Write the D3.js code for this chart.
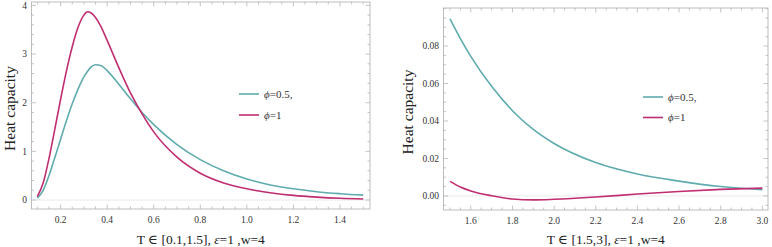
<!DOCTYPE html>
<html>
<head>
<meta charset="utf-8">
<script src="https://cdn.jsdelivr.net/npm/d3@7"></script>
<style>
  html, body { margin: 0; padding: 0; background: #fff; }
  svg { display: block; }
</style>
</head>
<body>
<svg id="chart" width="772" height="247"></svg>
<script>
// Left panel: T in [0.1, 1.5]
const tLow = [0.1, 0.125, 0.15, 0.175, 0.2, 0.225, 0.25, 0.275, 0.3, 0.315, 0.33, 0.35, 0.375, 0.4,
  0.45, 0.5, 0.55, 0.6, 0.7, 0.8, 0.9, 1.0, 1.1, 1.2, 1.3, 1.4, 1.5];
const cLowPhiHalf = [0.04, 0.2, 0.5, 0.87, 1.25, 1.63, 1.98, 2.28, 2.53, 2.64, 2.73, 2.78, 2.76, 2.66,
  2.38, 2.08, 1.8, 1.55, 1.14, 0.83, 0.6, 0.43, 0.31, 0.23, 0.17, 0.13, 0.1];
const cLowPhiOne = [0.07, 0.35, 0.85, 1.45, 2.07, 2.65, 3.15, 3.55, 3.8, 3.87, 3.85, 3.75, 3.55, 3.28,
  2.72, 2.2, 1.77, 1.4, 0.88, 0.55, 0.35, 0.23, 0.15, 0.095, 0.06, 0.035, 0.02];

// Right panel: T in [1.5, 3]
const tHigh = [1.5, 1.55, 1.6, 1.7, 1.8, 1.9, 2.0, 2.2, 2.4, 2.6, 2.8, 3.0];
const cHighPhiHalf = [0.0945, 0.084, 0.0745, 0.0585, 0.0455, 0.0355, 0.028, 0.0178, 0.0117, 0.0079, 0.005, 0.0033];
const cHighPhiOne = [0.0078, 0.0048, 0.0027, 0.0001, -0.0016, -0.0021, -0.0018, -0.0006, 0.001, 0.0024, 0.0035, 0.0042];

const xTicksLow = [0.2, 0.4, 0.6, 0.8, 1.0, 1.2, 1.4];
const yTicksLow = [0, 1, 2, 3, 4];
const xTicksHigh = [1.6, 1.8, 2.0, 2.2, 2.4, 2.6, 2.8, 3.0];
const yTicksHigh = [0, 0.02, 0.04, 0.06, 0.08];

const seriesNames = ['\u03D5=0.5,', '\u03D5=1'];
const colors = ['#5fabae', '#c02d71'];

const svg = d3.select('#chart');
const serif = "'Liberation Serif', 'DejaVu Serif', serif";

const panels = [
  {
    box: { x0: 31.5, x1: 370, y0: 2, y1: 209 },
    xDomain: [0.075, 1.529], yDomain: [-0.185, 4.07],
    xTicks: xTicksLow, yTicks: yTicksLow,
    xMinorStep: 0.05, yMinorStep: 0.2,
    xFmt: d3.format('.1f'), yFmt: d3.format('d'),
    t: tLow, series: [cLowPhiHalf, cLowPhiOne],
    legend: { x: 239, y: 94, gap: 21 },
    yTitleX: 15,
    title: ['T \u2208 [0.1,1.5], ', '\u03B5', '=1 ,w=4']
  },
  {
    box: { x0: 443.5, x1: 768, y0: 8, y1: 210 },
    xDomain: [1.469, 3.027], yDomain: [-0.0075, 0.1003],
    xTicks: xTicksHigh, yTicks: yTicksHigh,
    xMinorStep: 0.05, yMinorStep: 0.005,
    xFmt: d3.format('.1f'), yFmt: d3.format('.2f'),
    t: tHigh, series: [cHighPhiHalf, cHighPhiOne],
    legend: { x: 643, y: 97, gap: 20.5 },
    yTitleX: 413,
    title: ['T \u2208 [1.5,3], ', '\u03B5', '=1 ,w=4']
  }
];

function minorTicks(domain, step, majors) {
  const out = [];
  const start = Math.ceil(domain[0] / step - 1e-9);
  const end = Math.floor(domain[1] / step + 1e-9);
  for (let i = start; i <= end; i++) {
    const v = +(i * step).toFixed(6);
    if (!majors.some(m => Math.abs(m - v) < 1e-9)) out.push(v);
  }
  return out;
}

panels.forEach(p => {
  const b = p.box;
  const x = d3.scaleLinear().domain(p.xDomain).range([b.x0, b.x1]);
  const y = d3.scaleLinear().domain(p.yDomain).range([b.y1, b.y0]);
  const g = svg.append('g');

  // zero line
  g.append('line')
    .attr('x1', b.x0).attr('x2', b.x1)
    .attr('y1', y(0)).attr('y2', y(0))
    .attr('stroke', '#e4e4e4').attr('stroke-width', 0.8);

  // frame
  g.append('rect')
    .attr('x', b.x0).attr('y', b.y0)
    .attr('width', b.x1 - b.x0).attr('height', b.y1 - b.y0)
    .attr('fill', 'none').attr('stroke', '#bdbdbd').attr('stroke-width', 1);

  const tickCol = '#b5b5b5';
  const xMin = minorTicks(p.xDomain, p.xMinorStep, p.xTicks);
  const yMin = minorTicks(p.yDomain, p.yMinorStep, p.yTicks);

  // x ticks, bottom and top
  [[p.xTicks, 4.5], [xMin, 2.5]].forEach(([vals, len]) => {
    vals.forEach(v => {
      g.append('line').attr('x1', x(v)).attr('x2', x(v))
        .attr('y1', b.y1).attr('y2', b.y1 - len)
        .attr('stroke', tickCol).attr('stroke-width', 0.8);
      g.append('line').attr('x1', x(v)).attr('x2', x(v))
        .attr('y1', b.y0).attr('y2', b.y0 + len)
        .attr('stroke', tickCol).attr('stroke-width', 0.8);
    });
  });
  // y ticks, left and right
  [[p.yTicks, 4.5], [yMin, 2.5]].forEach(([vals, len]) => {
    vals.forEach(v => {
      g.append('line').attr('y1', y(v)).attr('y2', y(v))
        .attr('x1', b.x0).attr('x2', b.x0 + len)
        .attr('stroke', tickCol).attr('stroke-width', 0.8);
      g.append('line').attr('y1', y(v)).attr('y2', y(v))
        .attr('x1', b.x1).attr('x2', b.x1 - len)
        .attr('stroke', tickCol).attr('stroke-width', 0.8);
    });
  });

  // tick labels
  g.selectAll('.xl').data(p.xTicks).join('text')
    .attr('x', d => x(d)).attr('y', b.y1 + 13.5)
    .attr('text-anchor', 'middle')
    .style('font-family', serif).style('font-size', '9.5px').attr('fill', '#333')
    .text(p.xFmt);
  g.selectAll('.yl').data(p.yTicks).join('text')
    .attr('x', b.x0 - 4.5).attr('y', d => y(d) + 3.2)
    .attr('text-anchor', 'end')
    .style('font-family', serif).style('font-size', '9.5px').attr('fill', '#333')
    .text(p.yFmt);

  // curves
  const line = d3.line()
    .x(d => x(d[0])).y(d => y(d[1]))
    .curve(d3.curveMonotoneX);
  p.series.forEach((vals, i) => {
    g.append('path')
      .datum(p.t.map((t, k) => [t, vals[k]]))
      .attr('d', line)
      .attr('fill', 'none')
      .attr('stroke', colors[i])
      .attr('stroke-width', 1.6);
  });

  // legend
  seriesNames.forEach((name, i) => {
    const ly = p.legend.y + i * p.legend.gap;
    g.append('line')
      .attr('x1', p.legend.x).attr('x2', p.legend.x + 20)
      .attr('y1', ly).attr('y2', ly)
      .attr('stroke', colors[i]).attr('stroke-width', 1.6);
    const t = g.append('text')
      .attr('x', p.legend.x + 25).attr('y', ly + 3.8)
      .style('font-family', serif).style('font-size', '11px').attr('fill', '#333');
    t.append('tspan').style('font-style', 'italic').text(name[0]);
    t.append('tspan').text(name.slice(1));
  });

  // axis titles
  const xt = g.append('text')
    .attr('x', (b.x0 + b.x1) / 2).attr('y', 244)
    .attr('text-anchor', 'middle')
    .style('font-family', serif).style('font-size', '13.5px').attr('fill', '#222');
  xt.append('tspan').text(p.title[0]);
  xt.append('tspan').style('font-style', 'italic').text(p.title[1]);
  xt.append('tspan').text(p.title[2]);

  g.append('text')
    .attr('transform', `translate(${p.yTitleX},${(b.y0 + b.y1) / 2 + 3}) rotate(-90)`)
    .attr('text-anchor', 'middle')
    .style('font-family', serif).style('font-size', '15.5px').attr('fill', '#222')
    .text('Heat capacity');
});
</script>
</body>
</html>
